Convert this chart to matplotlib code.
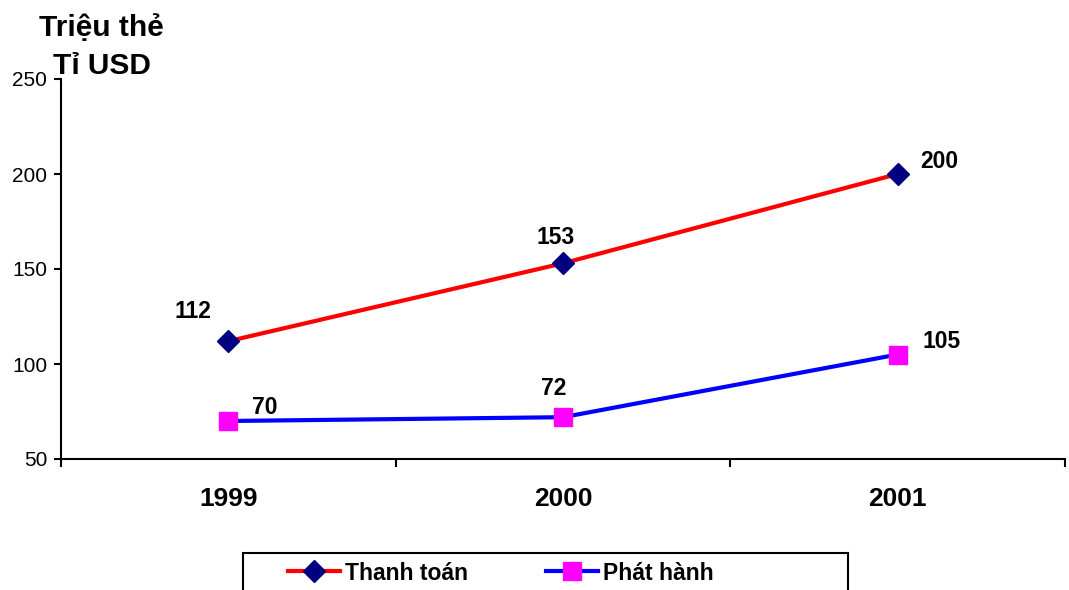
import matplotlib
matplotlib.use("Agg")
import matplotlib.pyplot as plt
from matplotlib.patches import Rectangle
from matplotlib.lines import Line2D

# data
years = ["1999", "2000", "2001"]
thanh_toan = [112, 153, 200]
phat_hanh = [70, 72, 105]
# label offsets (pixels) relative to each point
tt_offsets = [(-35, 30), (-7, 26), (42, 13)]
ph_offsets = [(36, 14), (-9, 29), (44, 13)]

plt.rcParams['font.family'] = ['Liberation Sans', 'DejaVu Sans']

W, H = 1069, 590
fig = plt.figure(figsize=(W / 100, H / 100), dpi=100)
ax = fig.add_axes([61 / W, 1 - 459 / H, (1065 - 61) / W, (459 - 79) / H])

x = list(range(len(years)))
ax.plot(x, thanh_toan, color="#FF0000", lw=3, marker="D", ms=11,
        mfc="#000080", mec="#000080", zorder=3, clip_on=False)
ax.plot(x, phat_hanh, color="#0000FF", lw=3, marker="s", ms=12.5,
        mfc="#FF00FF", mec="#FF00FF", zorder=3, clip_on=False)

for xi, v, (dx, dy) in zip(x, thanh_toan, tt_offsets):
    ax.annotate(str(v), (xi, v), xytext=(dx * 0.72, dy * 0.72),
                textcoords="offset points", ha="center", va="center",
                fontsize=16.5, fontweight="bold")
for xi, v, (dx, dy) in zip(x, phat_hanh, ph_offsets):
    ax.annotate(str(v), (xi, v), xytext=(dx * 0.72, dy * 0.72),
                textcoords="offset points", ha="center", va="center",
                fontsize=16.5, fontweight="bold")

ax.set_xlim(-0.5, 2.5)
ax.set_ylim(50, 250)
ax.set_yticks([50, 100, 150, 200, 250])
ax.set_xticks(x)
ax.set_xticklabels(years, fontsize=19, fontweight="bold")
ax.set_xticks([-0.5, 0.5, 1.5, 2.5], minor=True)
ax.tick_params(axis="x", which="major", length=0, pad=20)
ax.tick_params(axis="x", which="minor", length=6, width=1.5, direction="out")
ax.tick_params(axis="y", length=5, width=1.5, direction="out", labelsize=15, pad=5)
for s in ["top", "right"]:
    ax.spines[s].set_visible(False)
for s in ["left", "bottom"]:
    ax.spines[s].set_linewidth(1.5)

# axis title in the corner
fig.text(101 / W, 1 - 36 / H, "Triệu thẻ", ha="center", va="baseline",
         fontsize=21.5, fontweight="bold")
fig.text(102 / W, 1 - 74 / H, "Tỉ USD", ha="center", va="baseline",
         fontsize=21.5, fontweight="bold")

# legend with its box
fig.patches.append(Rectangle((243 / W, -0.05), (848 - 243) / W, 0.05 + (590 - 553) / H,
                             transform=fig.transFigure, fill=False, ec="black", lw=1.5))
handles = [
    Line2D([], [], color="#FF0000", lw=3, marker="D", ms=11, mfc="#000080", mec="#000080"),
    Line2D([], [], color="#0000FF", lw=3, marker="s", ms=12.5, mfc="#FF00FF", mec="#FF00FF"),
]
fig.legend(handles, ["Thanh toán", "Phát hành"], loc="center left",
           bbox_to_anchor=(288 / W, (590 - 573) / H), ncol=2, frameon=False,
           borderpad=0, borderaxespad=0, handlelength=2.27, handletextpad=0.22,
           columnspacing=3.4,
           prop={"weight": "bold", "size": 16.5})

fig.savefig("out.png", dpi=100)
